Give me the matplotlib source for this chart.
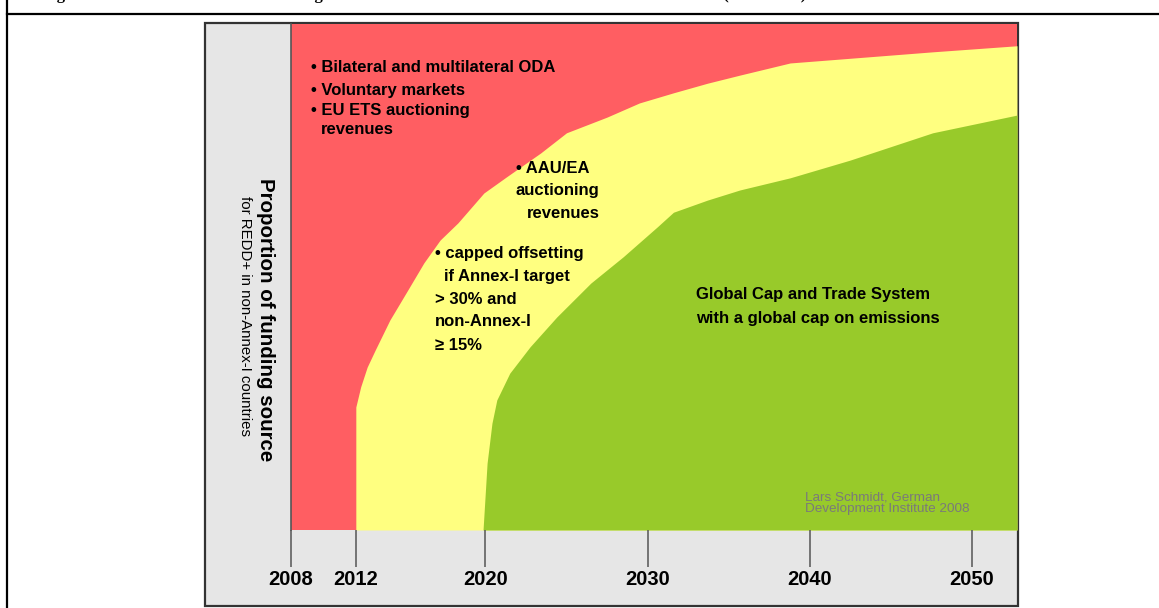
import numpy as np
import matplotlib
matplotlib.use('Agg')
import matplotlib.pyplot as plt
from matplotlib.patches import Rectangle
from matplotlib.lines import Line2D

plt.rcParams['font.family'] = ['Liberation Sans', 'DejaVu Sans']

# 年份刻度
years = [2008, 2012, 2020, 2030, 2040, 2050]

# 红/黄分界线（黄色区域上沿），单位：年份, 比例(%)
upper_x = [2012.0, 2012.0, 2012.3, 2012.7, 2013.2, 2014.1, 2015.2, 2016.2, 2017.2, 2018.3,
           2019.9, 2021.3, 2023.4, 2025.0, 2027.5, 2029.5, 2031.6, 2033.7, 2035.7,
           2038.8, 2043.6, 2047.6, 2052.8]
upper_y = [0.0, 24.3, 28.3, 32.2, 35.6, 41.5, 47.4, 52.8, 57.3, 60.7,
           66.6, 69.8, 74.5, 78.5, 81.6, 84.4, 86.4, 88.3, 89.9,
           92.3, 93.5, 94.5, 95.7]

# 黄/绿分界线（绿色区域上沿）
lower_x = [2019.85, 2020.1, 2020.4, 2020.7, 2021.5, 2022.75, 2024.4, 2026.5, 2028.5,
           2030.6, 2031.6, 2033.7, 2035.7, 2038.8, 2042.5, 2047.6, 2052.8]
lower_y = [0.0, 13.2, 21.1, 25.7, 31.0, 36.2, 42.1, 48.8, 54.0,
           59.9, 62.8, 65.2, 67.2, 69.6, 73.1, 78.5, 82.0]

red = '#FF5E62'
yellow = '#FFFF80'
green = '#98CA2A'
panel_gray = '#E6E6E6'

W, H = 1159, 608
fig = plt.figure(figsize=(W / 100, H / 100), dpi=100)


def fx(px):
    return px / W


def fy(py):
    return 1 - py / H


# 外框线（表格边框）
fig.add_artist(Line2D([fx(7), 1.0], [fy(14), fy(14)], color='black', lw=1.6))
fig.add_artist(Line2D([fx(7), fx(7)], [0, 1], color='black', lw=1.6))

# 截断的图题（只露出下伸部分）
fig.text(fx(42), 1 + 1.0 / H,
         'Figure 4: Shift in the sources of funding for REDD+ in non-Annex-I countries in the near future (2008-2050)',
         family='Liberation Serif', fontweight='bold', fontsize=12, va='baseline', ha='left')

# 灰色面板
fig.add_artist(Rectangle((fx(205), fy(606)), fx(1018) - fx(205), fy(23) - fy(606),
                         transform=fig.transFigure, facecolor=panel_gray,
                         edgecolor='#333333', lw=1.6, zorder=0))

ax = fig.add_axes([fx(291), fy(530), fx(1017) - fx(291), fy(24) - fy(530)])
ax.set_facecolor(red)
ax.fill_between(upper_x, 0, upper_y, color=yellow, lw=0)
ax.fill_between(lower_x, 0, lower_y, color=green, lw=0)
ax.set_xlim(2008, 2052.8)
ax.set_ylim(0, 100)

for s in ['top', 'right', 'bottom']:
    ax.spines[s].set_visible(False)
ax.spines['left'].set_color('#555555')
ax.spines['left'].set_linewidth(1.2)

ax.set_yticks([])
ax.set_xticks(years)
ax.set_xticklabels([str(y) for y in years], fontsize=14.5, fontweight='bold')
ax.tick_params(axis='x', direction='out', length=26.5, width=1.1, color='#555555', pad=2)

# 纵轴说明
fig.text(fx(265), fy(320), 'Proportion of funding source', rotation=270,
         fontsize=14.8, fontweight='bold', ha='center', va='center')
fig.text(fx(245), fy(316), 'for REDD+ in non-Annex-I countries', rotation=270,
         fontsize=10.8, ha='center', va='center')

# 区域说明
txt_kw = dict(fontsize=12, fontweight='bold', ha='left', va='center')
fig.text(fx(311), fy(68), '• Bilateral and multilateral ODA', **txt_kw)
fig.text(fx(311), fy(90), '• Voluntary markets', **txt_kw)
fig.text(fx(311), fy(110), '• EU ETS auctioning', **txt_kw)
fig.text(fx(321), fy(130), 'revenues', **txt_kw)

fig.text(fx(516), fy(168), '• AAU/EA', **txt_kw)
fig.text(fx(516), fy(191), 'auctioning', **txt_kw)
fig.text(fx(527), fy(213), 'revenues', **txt_kw)

fig.text(fx(435), fy(253), '• capped offsetting', **txt_kw)
fig.text(fx(444), fy(276), 'if Annex-I target', **txt_kw)
fig.text(fx(435), fy(299), '> 30% and', **txt_kw)
fig.text(fx(435), fy(322), 'non-Annex-I', **txt_kw)
fig.text(fx(435), fy(346), '≥ 15%', **txt_kw)

fig.text(fx(696), fy(295), 'Global Cap and Trade System', **txt_kw)
fig.text(fx(696), fy(318), 'with a global cap on emissions', **txt_kw)

fig.text(fx(805), fy(503), 'Lars Schmidt, German\nDevelopment Institute 2008',
         fontsize=9.7, color='#7a7a7a', ha='left', va='center', linespacing=0.9)

fig.savefig('out.png', dpi=100)
